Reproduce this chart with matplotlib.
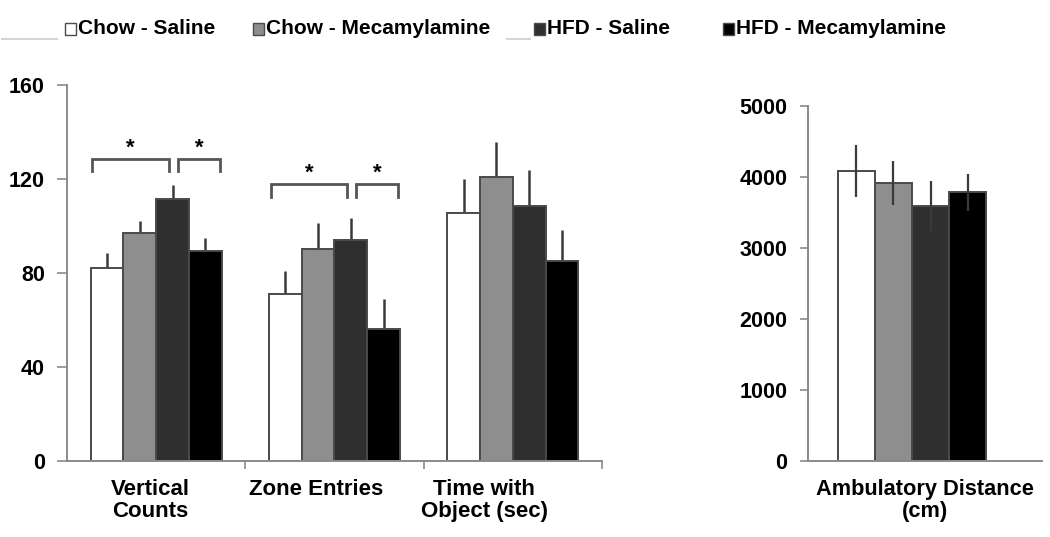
import matplotlib
matplotlib.use("Agg")
import matplotlib.pyplot as plt
from matplotlib import font_manager
from matplotlib.patches import Rectangle
from matplotlib.lines import Line2D
import numpy as np

# ---------------- data ----------------
groups = ["Chow - Saline", "Chow - Mecamylamine", "HFD - Saline", "HFD - Mecamylamine"]
colors = ["#ffffff", "#8e8e8e", "#2f2f2f", "#000000"]

left_categories = ["Vertical\nCounts", "Zone Entries", "Time with\nObject (sec)"]
# values per group across left categories
left_means = {
    "Chow - Saline":       [82.3, 70.9, 105.4],
    "Chow - Mecamylamine": [96.9, 90.1, 121.0],
    "HFD - Saline":        [111.5, 94.0, 108.6],
    "HFD - Mecamylamine":  [89.5, 56.0, 85.2],
}
left_sem = {
    "Chow - Saline":       [6.3, 10.0, 14.6],
    "Chow - Mecamylamine": [5.1, 11.0, 14.9],
    "HFD - Saline":        [5.9, 9.3, 15.2],
    "HFD - Mecamylamine":  [5.5, 12.8, 13.1],
}
left_yticks = [0, 40, 80, 120, 160]

right_category = "Ambulatory Distance\n(cm)"
right_means = [4085, 3911, 3592, 3784]
right_sem = [360, 310, 350, 260]
right_yticks = [0, 1000, 2000, 3000, 4000, 5000]

# significance brackets: (category index, first group, last group, height)
brackets = [(0, 0, 2, 128.5), (0, 2, 3, 128.5), (1, 0, 2, 117.7), (1, 2, 3, 117.7)]

# ---------------- fonts ----------------
avail = {f.name for f in font_manager.fontManager.ttflist}
base = "Liberation Sans" if "Liberation Sans" in avail else "DejaVu Sans"
plt.rcParams["font.family"] = [base, "DejaVu Sans"]

edge = "#4a4a4a"
spine_c = "#8a8a8a"

fig = plt.figure(figsize=(10.5, 5.37), dpi=100)

# ---------------- left panel ----------------
axL = fig.add_axes([67 / 1050, 76 / 537, 535 / 1050, 376 / 537])
w = 0.184
xcat = np.arange(len(left_categories))
offs = (np.arange(len(groups)) - 1.5) * w
for k, g in enumerate(groups):
    axL.bar(xcat + offs[k], left_means[g], width=w, color=colors[k],
            edgecolor=edge, linewidth=1.4, zorder=2)
    axL.errorbar(xcat + offs[k], left_means[g],
                 yerr=[np.zeros(len(xcat)), left_sem[g]],
                 fmt="none", ecolor="#3a3a3a", elinewidth=1.8, capsize=0, zorder=1)

axL.set_xlim(-0.5, 2.5)
axL.set_ylim(0, 160)
axL.set_yticks(left_yticks)
# category labels sit slightly left of the category centres in the original
label_shift = [-0.034, -0.103, -0.161]
axL.set_xticks(xcat + np.array(label_shift))
axL.set_xticklabels(left_categories, fontsize=16, fontweight="bold", linespacing=1.05)
axL.set_xticks([0.5, 1.5, 2.5], minor=True)
axL.tick_params(axis="x", which="major", length=0, pad=13)
axL.tick_params(axis="x", which="minor", length=6, width=1.2, color=spine_c, direction="out")
axL.tick_params(axis="y", length=7, width=1.2, color=spine_c, pad=9, labelsize=15.5)
for lab in axL.get_yticklabels():
    lab.set_fontweight("bold")

# brackets
for c, i, j, h in brackets:
    x0 = c + offs[i] + (-w / 2 + 0.01 if i == 0 else 0.03)
    x1 = c + offs[j] + (-0.02 if j == 2 else w / 2 - 0.01)
    axL.plot([x0, x0, x1, x1], [h - 5.2, h, h, h - 5.2], color="#555555", lw=2, zorder=3,
             solid_joinstyle="miter", clip_on=False)
    axL.text((x0 + x1) / 2, h + 4.6, "*", ha="center", va="center", fontsize=16,
             fontweight="bold", color="black")

# ---------------- right panel ----------------
axR = fig.add_axes([808 / 1050, 76 / 537, 234 / 1050, 355 / 537])
wr = 0.178
offr = (np.arange(len(groups)) - 1.5) * wr
for k in range(len(groups)):
    axR.bar(offr[k], right_means[k], width=wr, color=colors[k],
            edgecolor=edge, linewidth=1.4, zorder=1)
axR.errorbar(offr, right_means, yerr=right_sem, fmt="none", ecolor="#3a3a3a",
             elinewidth=1.6, capsize=0, zorder=3)
axR.set_xlim(-0.5, 0.625)
axR.set_ylim(0, 5000)
axR.set_yticks(right_yticks)
axR.set_xticks([0.0625])
axR.set_xticklabels([right_category], fontsize=15.7, fontweight="bold", linespacing=1.05)
axR.tick_params(axis="x", length=0, pad=13)
axR.tick_params(axis="y", length=6, width=1.2, color=spine_c, pad=9, labelsize=15.5)
for lab in axR.get_yticklabels():
    lab.set_fontweight("bold")

for ax in (axL, axR):
    ax.spines["top"].set_visible(False)
    ax.spines["right"].set_visible(False)
    for s in ("left", "bottom"):
        ax.spines[s].set_color(spine_c)
        ax.spines[s].set_linewidth(1.4)
    ax.set_facecolor("none")

# ---------------- legend (top) ----------------
leg_x = [70, 258, 540, 728]
yc = 1 - 29 / 537
sq = 11
for k, g in enumerate(groups):
    xm = leg_x[k] / 1050
    fig.patches.append(Rectangle((xm - sq / 2 / 1050, yc - sq / 2 / 537), sq / 1050, sq / 537,
                                 transform=fig.transFigure, facecolor=colors[k],
                                 edgecolor=edge, linewidth=1.0))
    fig.text(xm + 7.5 / 1050, yc, g, ha="left", va="center", fontsize=15,
             fontweight="bold")

# faint legend line artifacts
for x0, x1 in [(2, 57), (507, 530)]:
    fig.lines.append(Line2D([x0 / 1050, x1 / 1050], [1 - 39 / 537] * 2,
                            transform=fig.transFigure, color="#d5d5d5", lw=1.5))

fig.savefig("out.png", dpi=100, facecolor="white")
